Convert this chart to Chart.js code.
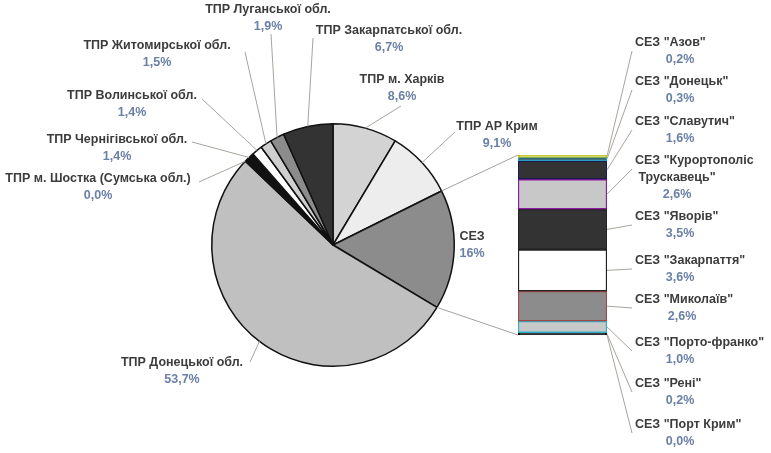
<!DOCTYPE html>
<html>
<head>
<meta charset="utf-8">
<script src="https://cdn.jsdelivr.net/npm/chart.js@4.4.1/dist/chart.umd.min.js"></script>
<style>
  body { margin: 0; background: #fff; }
  #wrap { position: relative; width: 771px; height: 453px; }
  #wrap canvas { position: absolute; left: 0; top: 0; }
</style>
</head>
<body>
<div id="wrap">
  <canvas id="barChart" width="771" height="453"></canvas>
  <canvas id="pieChart" width="771" height="453"></canvas>
</div>
<script>
// Pie: regions (clockwise from 12 o'clock)
const pieLabels = ['ТПР м. Харків', 'ТПР АР Крим', 'СЕЗ', 'ТПР Донецької обл.',
    'ТПР м. Шостка (Сумська обл.)', 'ТПР Чернігівської обл.', 'ТПР Волинської обл.',
    'ТПР Житомирської обл.', 'ТПР Луганської обл.', 'ТПР Закарпатської обл.'];
const pieValues = [8.6, 9.1, 16, 53.7, 0.0, 1.4, 1.4, 1.5, 1.9, 6.7];

// Bar: breakdown of СЕЗ (top to bottom)
const barLabels = ['СЕЗ "Азов"', 'СЕЗ "Донецьк"', 'СЕЗ "Славутич"', 'СЕЗ "Курортополіс\nТрускавець"',
    'СЕЗ "Яворів"', 'СЕЗ "Закарпаття"', 'СЕЗ "Миколаїв"', 'СЕЗ "Порто-франко"',
    'СЕЗ "Рені"', 'СЕЗ "Порт Крим"'];
const barValues = [0.2, 0.3, 1.6, 2.6, 3.5, 3.6, 2.6, 1.0, 0.2, 0.0];

// styles
const pieColors = ['#d3d3d3', '#ededed', '#8c8c8c', '#c0c0c0', '#808080',
    '#111111', '#ffffff', '#cfcfcf', '#8c8c8c', '#333333'];
const barColors = ['#c8c850', '#333333', '#333333', '#c8c8c8', '#333333',
    '#ffffff', '#8c8c8c', '#c8c8c8', '#000000', '#000000'];
const barBorders = ['#c0c000', '#2aa0c0', '#1a1a50', '#8a1aa0', '#222222',
    '#222222', '#a04848', '#30b0c8', '#000000', '#000000'];

const NAME_COLOR = '#3c3c3c';
const PCT_COLOR = '#6a80a6';
const LEAD_COLOR = '#a8a49c';
const FONT = 'bold 12.5px "Liberation Sans", Arial, sans-serif';

// label layout: text centre x, first line y, leader start point, decimals
const pieLabelPos = [
    { x: 402, y: 80, lead: [401, 106], dec: 1 },
    { x: 497, y: 127, lead: [455, 132], dec: 1 },
    { x: 472, y: 237, lead: null, dec: 0 },
    { x: 182, y: 363, lead: [250, 362], dec: 1 },
    { x: 98, y: 179, lead: [199, 182], dec: 1 },
    { x: 117, y: 140, lead: [192, 142], dec: 1 },
    { x: 132, y: 96, lead: [202, 99], dec: 1 },
    { x: 157, y: 46, lead: [245, 52], dec: 1 },
    { x: 268, y: 10, lead: [271, 34], dec: 1 },
    { x: 389, y: 31, lead: [313, 38], dec: 1 }
];
const barLabelPos = [
    { x: 635, y: 43, pctX: 680 },
    { x: 635, y: 82, pctX: 680 },
    { x: 635, y: 122, pctX: 680 },
    { x: 635, y: 161, pctX: 677 },
    { x: 635, y: 217, pctX: 680 },
    { x: 635, y: 261, pctX: 680 },
    { x: 635, y: 300, pctX: 682 },
    { x: 635, y: 343, pctX: 680 },
    { x: 635, y: 384, pctX: 680 },
    { x: 635, y: 425, pctX: 680 }
];
const LINE_H = 17;

function fmtPct(v, dec) {
    return v.toFixed(dec).replace('.', ',') + '%';
}

let barChart, pieChart;

const barLabelPlugin = {
    id: 'barLabels',
    afterDraw(chart) {
        const ctx = chart.ctx;
        ctx.save();
        ctx.font = FONT;
        ctx.textBaseline = 'middle';
        barValues.forEach((v, i) => {
            const el = chart.getDatasetMeta(i).data[0];
            const pos = barLabelPos[i];
            const lines = barLabels[i].split('\n');
            const right = el.x + el.width / 2;
            const midY = (el.y + el.base) / 2;
            // leader
            ctx.strokeStyle = LEAD_COLOR;
            ctx.lineWidth = 1;
            ctx.beginPath();
            ctx.moveTo(right, midY);
            ctx.lineTo(pos.x - 3, pos.y + 8);
            ctx.stroke();
            // text
            ctx.fillStyle = NAME_COLOR;
            lines.forEach((ln, k) => {
                if (k === 0) {
                    ctx.textAlign = 'left';
                    ctx.fillText(ln, pos.x, pos.y + k * LINE_H);
                } else {
                    ctx.textAlign = 'center';
                    ctx.fillText(ln, pos.pctX, pos.y + k * LINE_H);
                }
            });
            ctx.textAlign = 'center';
            ctx.fillStyle = PCT_COLOR;
            ctx.fillText(fmtPct(v, 1), pos.pctX, pos.y + lines.length * LINE_H);
        });
        ctx.restore();
    }
};

const pieLabelPlugin = {
    id: 'pieLabels',
    afterDraw(chart) {
        const ctx = chart.ctx;
        const arcs = chart.getDatasetMeta(0).data;
        ctx.save();
        ctx.font = FONT;
        ctx.textBaseline = 'middle';
        ctx.textAlign = 'center';
        arcs.forEach((arc, i) => {
            const pos = pieLabelPos[i];
            const mid = (arc.startAngle + arc.endAngle) / 2;
            const r = arc.outerRadius;
            if (pos.lead) {
                ctx.strokeStyle = LEAD_COLOR;
                ctx.lineWidth = 1;
                ctx.beginPath();
                ctx.moveTo(pos.lead[0], pos.lead[1]);
                ctx.lineTo(arc.x + Math.cos(mid) * r, arc.y + Math.sin(mid) * r);
                ctx.stroke();
            }
            ctx.fillStyle = NAME_COLOR;
            ctx.fillText(pieLabels[i], pos.x, pos.y);
            ctx.fillStyle = PCT_COLOR;
            ctx.fillText(fmtPct(pieValues[i], pos.dec), pos.x, pos.y + LINE_H);
        });

        // connectors from the СЕЗ slice to the bar
        const sez = arcs[2];
        const first = barChart.getDatasetMeta(0).data[0];
        const last = barChart.getDatasetMeta(barValues.length - 1).data[0];
        const barLeft = first.x - first.width / 2;
        const barTop = Math.min(first.y, first.base);
        const barBottom = Math.max(last.y, last.base);
        ctx.strokeStyle = '#a0a0a0';
        ctx.lineWidth = 1;
        ctx.beginPath();
        ctx.moveTo(sez.x + Math.cos(sez.startAngle) * sez.outerRadius, sez.y + Math.sin(sez.startAngle) * sez.outerRadius);
        ctx.lineTo(barLeft, barTop);
        ctx.moveTo(sez.x + Math.cos(sez.endAngle) * sez.outerRadius, sez.y + Math.sin(sez.endAngle) * sez.outerRadius);
        ctx.lineTo(barLeft, barBottom);
        ctx.stroke();
        ctx.restore();
    }
};

function initCharts() {
    const bctx = document.getElementById('barChart').getContext('2d');
    barChart = new Chart(bctx, {
        type: 'bar',
        data: {
            labels: ['СЕЗ'],
            datasets: barValues.map((v, i) => ({
                label: barLabels[i],
                data: [v],
                backgroundColor: barColors[i],
                borderColor: barBorders[i],
                borderWidth: 1.5,
                borderSkipped: false,
                barPercentage: 1,
                categoryPercentage: 1
            }))
        },
        options: {
            responsive: false,
            animation: false,
            layout: { padding: { left: 518, right: 164, top: 155, bottom: 118 } },
            scales: {
                x: { stacked: true, display: false },
                y: {
                    stacked: true, display: false, reverse: true,
                    min: 0, max: barValues.reduce((a, b) => a + b, 0)
                }
            },
            plugins: { legend: { display: false }, tooltip: { enabled: false } }
        },
        plugins: [barLabelPlugin]
    });

    const pctx = document.getElementById('pieChart').getContext('2d');
    pieChart = new Chart(pctx, {
        type: 'pie',
        data: {
            labels: pieLabels,
            datasets: [{
                data: pieValues,
                backgroundColor: pieColors,
                borderColor: '#111111',
                borderWidth: 1.5,
                hoverOffset: 0
            }]
        },
        options: {
            responsive: false,
            animation: false,
            layout: { padding: { left: 211, right: 316, top: 123, bottom: 86 } },
            plugins: { legend: { display: false }, tooltip: { enabled: false } }
        },
        plugins: [pieLabelPlugin]
    });
}

initCharts();
</script>
</body>
</html>
